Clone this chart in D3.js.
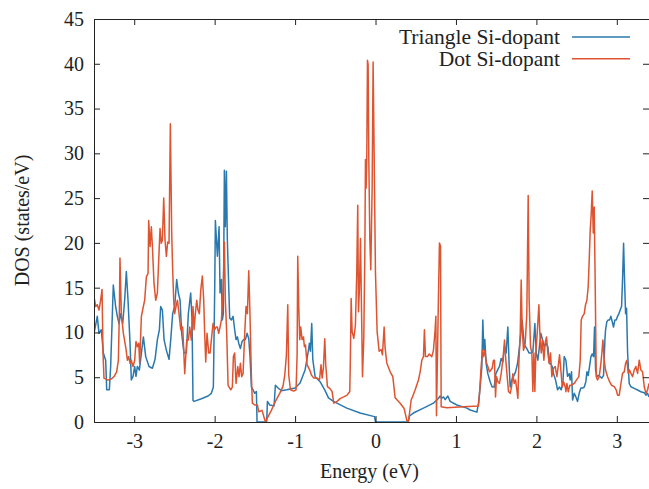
<!DOCTYPE html>
<html>
<head>
<meta charset="utf-8">
<script src="https://cdn.jsdelivr.net/npm/d3@7"></script>
<style>
  html, body { margin: 0; padding: 0; background: #fff; }
  svg { display: block; }
  svg text { font-family: "Liberation Serif", "DejaVu Serif", "Noto Serif", serif !important; fill: #222; }
</style>
</head>
<body>
<svg id="chart" width="649" height="489"></svg>
<script>
// ---- Data ----
const xTicks = [-3, -2, -1, 0, 1, 2, 3];
const yTicks = [0, 5, 10, 15, 20, 25, 30, 35, 40, 45];
const seriesNames = ["Triangle Si-dopant", "Dot Si-dopant"];

const triE = [
-3.500,-3.459,-3.438,-3.409,-3.384,-3.355,-3.342,-3.309,-3.293,-3.260,-3.231,-3.210,-3.189,-3.168,-3.143,-3.119,-3.098,-3.077,-3.052,-3.036,
-3.015,-2.994,-2.978,-2.961,-2.936,-2.911,-2.886,-2.857,-2.816,-2.774,-2.741,-2.712,-2.687,-2.671,-2.650,-2.629,-2.600,-2.567,-2.546,-2.522,
-2.497,-2.472,-2.451,-2.430,-2.410,-2.381,-2.352,-2.327,-2.298,-2.281,-2.269,-2.256,-2.165,-2.082,-2.041,-2.016,-1.999,-1.991,-1.966,-1.945,
-1.933,-1.916,-1.904,-1.892,-1.879,-1.867,-1.854,-1.842,-1.825,-1.813,-1.792,-1.771,-1.751,-1.734,-1.717,-1.701,-1.680,-1.659,-1.639,-1.618,
-1.597,-1.576,-1.560,-1.543,-1.523,-1.502,-1.481,-1.473,-1.353,-1.344,-1.315,-1.261,-1.245,-1.212,-1.170,-1.103,-1.000,-0.938,-0.876,-0.834,
-0.822,-0.809,-0.793,-0.780,-0.751,-0.689,-0.627,-0.585,-0.523,-0.357,-0.192,-0.013,0.000,0.405,0.422,0.471,0.596,0.720,0.783,0.803,
0.824,0.845,0.866,0.899,0.928,1.011,1.136,1.177,1.260,1.280,1.301,1.322,1.334,1.347,1.359,1.376,1.396,1.425,1.450,1.475,
1.496,1.517,1.541,1.562,1.583,1.604,1.624,1.645,1.662,1.674,1.695,1.716,1.741,1.765,1.790,1.807,1.823,1.836,1.852,1.881,
1.910,1.935,1.956,1.981,1.998,2.018,2.035,2.056,2.076,2.097,2.118,2.143,2.163,2.180,2.196,2.213,2.238,2.263,2.288,2.308,
2.329,2.346,2.367,2.387,2.408,2.420,2.437,2.450,2.470,2.491,2.512,2.532,2.553,2.574,2.595,2.615,2.628,2.644,2.661,2.678,
2.694,2.711,2.723,2.736,2.752,2.773,2.794,2.814,2.835,2.852,2.860,2.876,2.893,2.910,2.926,2.943,2.959,2.976,2.993,3.009,
3.026,3.042,3.059,3.071,3.084,3.096,3.109,3.121,3.134,3.154,3.175,3.216,3.258,3.299,3.341,3.362,3.382,3.400
];
const triDOS = [
9.9,11.8,9.9,10.3,7.7,6.9,3.6,3.6,6.2,15.3,12.9,11.8,11.0,12.1,11.0,13.6,16.8,13.6,8.8,4.7,
5.1,6.2,5.1,6.2,5.8,7.7,9.5,7.3,6.2,6.0,7.0,9.2,10.3,12.9,12.5,9.2,8.0,7.0,9.2,12.1,
12.9,15.9,14.4,13.6,9.9,7.7,7.7,12.1,14.4,11.4,2.4,2.3,2.6,2.9,3.2,3.9,15.0,22.5,18.5,21.8,
14.4,15.9,11.4,12.1,28.1,21.8,28.0,20.3,15.1,11.6,11.4,11.8,10.3,9.2,9.5,8.8,8.2,9.0,9.2,9.2,
9.9,9.3,7.3,3.9,3.6,3.2,3.4,0,0,2.3,1.9,1.8,4.1,3.8,3.5,3.6,3.8,4.35,5.8,8.0,
8.8,7.9,11.0,7.0,5.06,4.5,3.5,2.7,2.3,1.55,1.0,0.6,0,0,0.67,1.0,1.55,2.1,2.65,2.9,
2.65,2.8,2.5,2.9,2.3,1.9,1.55,1.34,1.1,2.1,3.9,6.2,11.4,8.0,9.2,6.5,5.4,4.5,3.9,3.9,
5.4,5.8,6.2,7.1,6.7,8.4,7.7,10.6,6.2,3.9,4.7,5.1,5.6,6.5,8.4,9.9,11.4,9.9,8.6,8.2,
7.7,7.7,7.8,11.0,7.7,6.9,8.2,9.9,9.2,8.4,8.8,8.4,6.5,6.5,6.2,5.4,4.7,3.6,3.9,3.6,
4.3,7.3,6.9,5.1,5.4,4.7,5.6,2.45,3.2,2.8,2.3,3.2,3.8,3.8,3.9,4.5,5.6,5.2,6.2,7.3,
7.6,7.3,10.6,5.8,5.06,5.2,5.06,4.9,5.2,9.2,10.3,11.2,11.4,11.4,11.8,11.2,10.6,11.4,11.4,11.8,
12.1,12.5,12.9,15.85,19.95,15.85,12.1,12.7,7.7,4.3,3.94,3.75,3.57,3.38,3.27,3.0,3.2,2.8
];

const dotE = [
-3.500,-3.479,-3.459,-3.438,-3.417,-3.400,-3.388,-3.376,-3.334,-3.293,-3.251,-3.218,-3.197,-3.185,-3.177,-3.160,-3.135,-3.106,-3.085,-3.069,
-3.052,-3.036,-3.015,-2.994,-2.978,-2.961,-2.944,-2.932,-2.911,-2.891,-2.870,-2.849,-2.828,-2.820,-2.803,-2.787,-2.774,-2.754,-2.733,-2.712,
-2.692,-2.679,-2.663,-2.650,-2.633,-2.617,-2.600,-2.584,-2.567,-2.551,-2.534,-2.522,-2.509,-2.497,-2.480,-2.463,-2.443,-2.422,-2.397,-2.372,
-2.347,-2.327,-2.310,-2.290,-2.269,-2.256,-2.240,-2.223,-2.207,-2.190,-2.173,-2.153,-2.136,-2.124,-2.111,-2.095,-2.074,-2.057,-2.041,-2.020,
-1.999,-1.983,-1.966,-1.950,-1.933,-1.916,-1.896,-1.879,-1.867,-1.850,-1.833,-1.800,-1.780,-1.767,-1.751,-1.734,-1.713,-1.697,-1.680,-1.664,
-1.647,-1.626,-1.610,-1.593,-1.576,-1.560,-1.543,-1.531,-1.502,-1.469,-1.452,-1.411,-1.369,-1.336,-1.295,-1.245,-1.191,-1.150,-1.128,-1.108,
-1.091,-1.079,-1.058,-1.017,-0.988,-0.975,-0.967,-0.954,-0.942,-0.930,-0.913,-0.896,-0.884,-0.871,-0.851,-0.818,-0.797,-0.768,-0.726,-0.697,
-0.677,-0.664,-0.648,-0.631,-0.619,-0.598,-0.569,-0.540,-0.519,-0.478,-0.436,-0.395,-0.353,-0.320,-0.312,-0.303,-0.291,-0.270,-0.250,-0.233,
-0.221,-0.212,-0.200,-0.187,-0.175,-0.162,-0.146,-0.133,-0.125,-0.117,-0.109,-0.100,-0.092,-0.084,-0.071,-0.059,-0.042,-0.030,-0.017,-0.001,
0.020,0.045,0.070,0.086,0.107,0.119,0.140,0.182,0.215,0.244,0.306,0.356,0.389,0.409,0.443,0.459,0.493,0.534,0.555,0.576,
0.596,0.608,0.621,0.646,0.667,0.700,0.720,0.741,0.750,0.758,0.783,0.795,0.808,0.816,0.887,1.093,1.280,1.293,1.313,1.330,
1.342,1.359,1.376,1.396,1.417,1.434,1.450,1.467,1.479,1.492,1.504,1.521,1.541,1.562,1.583,1.604,1.620,1.637,1.653,1.674,
1.691,1.707,1.724,1.741,1.757,1.770,1.782,1.799,1.811,1.823,1.840,1.861,1.881,1.898,1.910,1.927,1.944,1.956,1.969,1.981,
1.993,2.010,2.031,2.043,2.060,2.076,2.093,2.109,2.126,2.143,2.159,2.176,2.192,2.213,2.234,2.255,2.271,2.288,2.304,2.321,
2.338,2.358,2.367,2.379,2.396,2.416,2.437,2.470,2.499,2.528,2.545,2.557,2.574,2.595,2.611,2.628,2.644,2.657,2.669,2.682,
2.694,2.707,2.719,2.731,2.744,2.760,2.781,2.802,2.814,2.827,2.843,2.860,2.885,2.910,2.935,2.968,2.993,3.009,3.030,3.051,
3.071,3.092,3.109,3.125,3.142,3.158,3.175,3.196,3.216,3.237,3.258,3.279,3.299,3.320,3.341,3.362,3.382,3.400
];
const dotDOS = [
14.0,12.9,13.1,12.5,13.6,14.8,7.7,4.9,4.7,4.75,5.06,5.6,6.9,12.0,18.3,12.1,9.9,8.4,6.9,7.3,
6.55,6.9,6.2,6.9,9.0,8.4,8.8,6.55,11.8,12.7,13.6,16.2,16.6,22.5,19.6,21.8,19.6,15.5,13.6,14.4,
18.8,21.6,19.95,20.3,25.0,20.3,18.5,20.1,19.95,33.3,21.1,17.0,13.6,12.1,12.9,13.6,12.1,10.3,10.6,5.4,
9.15,9.15,10.6,9.15,12.9,10.3,12.1,13.6,12.5,12.1,14.7,16.3,13.6,9.9,6.7,9.9,7.7,7.7,9.15,11.0,
10.3,10.6,10.6,9.9,10.6,11.4,14.4,20.1,13.6,9.9,4.1,3.6,3.9,7.3,7.7,4.3,6.2,5.06,6.55,5.06,
5.4,9.9,12.9,12.1,16.9,11.76,5.06,2.1,1.9,1.9,1.15,1.3,0,0.6,1.3,2.3,3.2,4.0,5.25,7.5,
13.1,5.25,3.6,3.45,3.6,7.5,18.5,12.7,9.2,10.6,9.2,9.5,8.4,8.6,6.4,5.8,5.25,4.9,4.9,4.7,
6.4,4.9,6.0,9.3,6.4,3.95,3.76,3.4,2.1,2.3,2.64,2.8,3.0,3.4,7.5,13.8,10.1,9.35,10.8,16.8,
24.2,12.3,14.9,20.5,13.1,5.06,9.35,18.65,29.3,26.1,29.3,40.4,39.9,29.8,20.5,17.0,26.1,40.2,29.8,16.8,
10.1,7.9,8.1,7.5,10.6,8.3,6.6,5.6,5.06,2.7,2.1,1.5,0.2,0,2.46,2.8,3.6,4.7,5.6,6.9,
7.3,10.3,7.3,7.3,7.6,7.3,8.0,10.3,11.8,0.7,14.4,20.0,19.6,1.7,1.6,1.7,1.8,3.2,6.2,8.0,
7.3,8.0,6.7,6.2,5.6,5.8,6.0,6.9,6.9,2.8,5.06,4.5,4.3,5.4,6.9,9.15,6.9,5.06,3.4,3.2,
3.9,5.4,4.3,4.7,3.6,2.64,6.55,9.9,15.85,10.6,8.0,8.8,12.1,25.3,13.6,8.4,7.7,3.4,7.7,3.4,
7.7,9.9,13.1,9.9,7.7,9.15,6.9,8.8,9.5,7.7,6.55,7.7,5.06,6.0,6.2,5.06,6.2,7.5,5.8,3.94,
4.5,3.94,3.38,4.3,3.38,4.1,4.1,4.3,4.7,5.06,6.9,11.4,11.8,12.1,13.1,13.6,15.1,18.1,21.4,23.3,
25.8,21.1,24.0,15.5,5.06,4.7,5.06,6.55,7.7,9.15,6.9,5.8,5.06,4.5,4.1,3.94,3.57,3.0,3.0,4.3,
5.43,5.6,6.55,6.9,5.43,5.8,5.43,5.06,5.8,6.2,5.43,6.9,5.8,5.6,3.94,3.2,3.57,4.3
];

// ---- Layout ----
const plot = { left: 94, right: 649, top: 19, bottom: 422 };
const colors = ["#2a78ad", "#de5430"];
const fontSize = 20;
const legendFontSize = 21.5;
const serif = '"Liberation Serif", "DejaVu Serif", "Noto Serif", serif';

const svg = d3.select("#chart");
const x = d3.scaleLinear().domain([-3.5, 3.4]).range([plot.left, plot.right]);
const y = d3.scaleLinear().domain([0, 45]).range([plot.bottom, plot.top]);

svg.append("defs").append("clipPath").attr("id", "clip")
  .append("rect")
  .attr("x", plot.left).attr("y", plot.top)
  .attr("width", plot.right - plot.left).attr("height", plot.bottom - plot.top);

const series = [
  { name: seriesNames[0], E: triE, D: triDOS, color: colors[0] },
  { name: seriesNames[1], E: dotE, D: dotDOS, color: colors[1] }
];
const line = d3.line().x(d => x(d[0])).y(d => y(d[1]));
const gLines = svg.append("g").attr("clip-path", "url(#clip)");
series.forEach(s => {
  const pts = s.E.map((e, i) => [e, s.D[i]]);
  gLines.append("path").datum(pts)
    .attr("d", line)
    .attr("fill", "none")
    .attr("stroke", s.color)
    .attr("stroke-width", 1.5)
    .attr("stroke-linejoin", "round");
});

const axisStyle = g => {
  g.attr("font-family", serif).attr("font-size", fontSize);
  g.select(".domain").remove();
  g.selectAll(".tick line").attr("stroke", "#222").attr("stroke-width", 1);
  g.selectAll(".tick text").attr("fill", "#222")
    .attr("font-family", serif).attr("font-size", fontSize);
};
svg.append("g").attr("transform", `translate(${plot.left},0)`)
  .call(d3.axisLeft(y).tickValues(yTicks).tickFormat(d => String(d)).tickSizeInner(-6).tickSizeOuter(0).tickPadding(10))
  .call(axisStyle);
svg.append("g").attr("transform", `translate(0,${plot.bottom})`)
  .call(d3.axisBottom(x).tickValues(xTicks).tickFormat(d => String(d)).tickSizeInner(-6).tickSizeOuter(0).tickPadding(12))
  .call(axisStyle);
svg.append("g").attr("transform", `translate(0,${plot.top})`)
  .call(d3.axisTop(x).tickValues(xTicks).tickFormat("").tickSizeInner(-6).tickSizeOuter(0))
  .call(axisStyle);
svg.append("g").attr("transform", `translate(${plot.right},0)`)
  .call(d3.axisRight(y).tickValues(yTicks).tickFormat("").tickSizeInner(-6).tickSizeOuter(0))
  .call(axisStyle);

svg.append("path")
  .attr("d", `M${plot.right + 1},${plot.top + 0.5}H${plot.left + 0.5}V${plot.bottom + 0.5}H${plot.right + 1}`)
  .attr("fill", "none").attr("stroke", "#222").attr("stroke-width", 1);

svg.append("text")
  .attr("x", (plot.left + plot.right) / 2 - 2).attr("y", 478)
  .attr("text-anchor", "middle").attr("font-family", serif).attr("font-size", fontSize)
  .text("Energy (eV)");
svg.append("text")
  .attr("transform", `translate(29,${(plot.top + plot.bottom) / 2}) rotate(-90)`)
  .attr("text-anchor", "middle").attr("font-family", serif).attr("font-size", fontSize)
  .text("DOS (states/eV)");

const legend = svg.append("g");
series.forEach((s, i) => {
  const ly = 37 + i * 21.7;
  legend.append("text")
    .attr("x", 560).attr("y", ly).attr("dy", "0.33em")
    .attr("text-anchor", "end").attr("font-family", serif).attr("font-size", legendFontSize)
    .text(s.name);
  legend.append("line")
    .attr("x1", 572).attr("x2", 630).attr("y1", ly).attr("y2", ly)
    .attr("stroke", s.color).attr("stroke-width", 1.5);
});
</script>
</body>
</html>
